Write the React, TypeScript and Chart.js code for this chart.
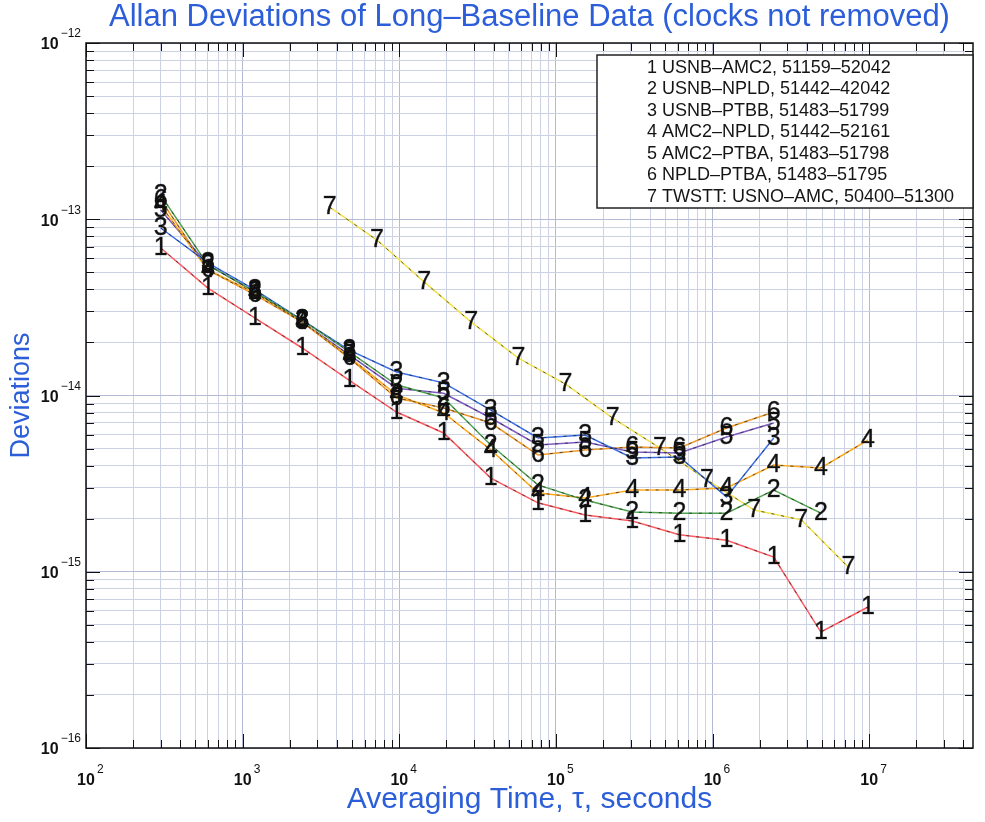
import { useEffect, useRef } from 'react';
import { Chart, registerables } from 'chart.js';

Chart.register(...registerables);

// ---- data ----
const tauMain = [300, 600, 1200, 2400, 4800, 9600, 19200, 38400, 76800, 153600, 307200, 614400, 1228800, 2457600, 4915200, 9830400];
const tauTwstt = [3600, 7200, 14400, 28800, 57600, 115200, 230400, 460800, 921600, 1843200, 3686400, 7372800];

const series1 = [6.87e-14, 4.07e-14, 2.75e-14, 1.86e-14, 1.22e-14, 8.06e-15, 6.13e-15, 3.4e-15, 2.46e-15, 2.1e-15, 1.94e-15, 1.62e-15, 1.51e-15, 1.21e-15, 4.55e-16, 6.31e-16];
const series2 = [1.37e-13, 5.5e-14, 3.87e-14, 2.68e-14, 1.77e-14, 1.15e-14, 9.68e-15, 5.24e-15, 3.11e-15, 2.55e-15, 2.18e-15, 2.15e-15, 2.15e-15, 2.91e-15, 2.15e-15];
const series3 = [8.92e-14, 5.65e-14, 3.97e-14, 2.68e-14, 1.81e-14, 1.36e-14, 1.18e-14, 8.27e-15, 5.74e-15, 5.97e-15, 4.42e-15, 4.48e-15, 2.66e-15, 5.74e-15];
const series4 = [1.2e-13, 5.15e-14, 3.82e-14, 2.61e-14, 1.65e-14, 1.01e-14, 7.96e-15, 4.91e-15, 2.8e-15, 2.62e-15, 2.91e-15, 2.91e-15, 2.99e-15, 4.03e-15, 3.88e-15, 5.59e-15];
const series5 = [1.13e-13, 5.5e-14, 3.87e-14, 2.61e-14, 1.7e-14, 1.1e-14, 1.03e-14, 7.45e-15, 5.24e-15, 5.45e-15, 4.78e-15, 4.72e-15, 5.81e-15, 6.98e-15];
const series6 = [1.29e-13, 5.15e-14, 3.72e-14, 2.61e-14, 1.63e-14, 9.68e-15, 8.5e-15, 6.98e-15, 4.6e-15, 4.91e-15, 5.1e-15, 5.04e-15, 6.54e-15, 8.06e-15];
const series7 = [1.17e-13, 7.62e-14, 4.41e-14, 2.61e-14, 1.63e-14, 1.16e-14, 7.45e-15, 5.04e-15, 3.32e-15, 2.24e-15, 1.97e-15, 1.06e-15];

const seriesMarks = ['1', '2', '3', '4', '5', '6', '7'];
const legendEntries = [
  '1 USNB–AMC2, 51159–52042',
  '2 USNB–NPLD, 51442–42042',
  '3 USNB–PTBB, 51483–51799',
  '4 AMC2–NPLD, 51442–52161',
  '5 AMC2–PTBA, 51483–51798',
  '6 NPLD–PTBA, 51483–51795',
  '7 TWSTT: USNO–AMC, 50400–51300',
];
const seriesColors = ['#ff5a5f', '#4fa34f', '#3b6fe6', '#ffaa1e', '#7e5cc4', '#f09a2c', '#f2e24e'];

const xDecades = [2, 3, 4, 5, 6, 7];
const yDecades = [-16, -15, -14, -13, -12];
const xMin = 100;
const xMax = 4.6e7;
const yMin = 1e-16;
const yMax = 1e-12;

const titleText = 'Allan Deviations of Long–Baseline Data (clocks not removed)';
const xTitle = 'Averaging Time, τ, seconds';
const yTitle = 'Deviations';

const BLUE = '#2b5ed8';
const FONT = '"Liberation Sans", Arial, Helvetica, sans-serif';

function logTicks(min: number, max: number) {
  const out: number[] = [];
  const e0 = Math.floor(Math.log10(min));
  const e1 = Math.ceil(Math.log10(max));
  for (let e = e0; e <= e1; e++) {
    for (let m = 1; m <= 9; m++) {
      const v = m * Math.pow(10, e);
      if (v >= min * 0.999999 && v <= max * 1.000001) out.push(v);
    }
  }
  return out;
}

const isDecade = (v: number) => {
  const l = Math.log10(v);
  return Math.abs(l - Math.round(l)) < 1e-6;
};

const decorPlugin = {
  id: 'decor',
  afterDatasetsDraw(chart: any) {
    const { ctx } = chart;
    ctx.save();
    ctx.font = `25px ${FONT}`;
    ctx.fillStyle = '#111';
    ctx.strokeStyle = 'rgba(17,17,17,0.6)';
    ctx.lineWidth = 0.6;
    ctx.textAlign = 'center';
    ctx.textBaseline = 'middle';
    chart.data.datasets.forEach((ds: any, i: number) => {
      if (!ds.markLabel) return;
      const meta = chart.getDatasetMeta(i);
      meta.data.forEach((pt: any) => {
        ctx.fillText(ds.markLabel, pt.x, pt.y);
        ctx.strokeText(ds.markLabel, pt.x, pt.y);
      });
    });
    ctx.restore();
  },
  afterDraw(chart: any) {
    const { ctx, chartArea: ca, scales } = chart;
    const xs = scales.x;
    const ys = scales.y;
    ctx.save();
    // inward ticks
    ctx.strokeStyle = '#111';
    ctx.lineWidth = 1;
    ctx.beginPath();
    ys.ticks.forEach((t: any) => {
      const py = Math.round(ys.getPixelForValue(t.value)) + 0.5;
      const len = isDecade(t.value) ? 14 : 8;
      ctx.moveTo(ca.left, py);
      ctx.lineTo(ca.left + len, py);
      ctx.moveTo(ca.right, py);
      ctx.lineTo(ca.right - len, py);
    });
    xs.ticks.forEach((t: any) => {
      const px = Math.round(xs.getPixelForValue(t.value)) + 0.5;
      const len = isDecade(t.value) ? 14 : 8;
      ctx.moveTo(px, ca.bottom);
      ctx.lineTo(px, ca.bottom - len);
      ctx.moveTo(px, ca.top);
      ctx.lineTo(px, ca.top + len);
    });
    ctx.stroke();
    // frame
    ctx.lineWidth = 1.5;
    ctx.strokeStyle = '#111';
    ctx.strokeRect(ca.left, ca.top, ca.right - ca.left, ca.bottom - ca.top);

    // tick labels
    ctx.fillStyle = '#111';
    ctx.textBaseline = 'middle';
    yDecades.forEach((e) => {
      const py = ys.getPixelForValue(Math.pow(10, e));
      const expTxt = (e < 0 ? '−' : '') + Math.abs(e);
      ctx.font = `12px ${FONT}`;
      ctx.textAlign = 'right';
      const ew = ctx.measureText(expTxt).width;
      ctx.fillText(expTxt, ca.left - 5, py - 9);
      ctx.font = `bold 16px ${FONT}`;
      ctx.fillText('10', ca.left - 7 - ew, py + 2);
    });
    xDecades.forEach((e) => {
      const px = xs.getPixelForValue(Math.pow(10, e));
      ctx.font = `bold 16px ${FONT}`;
      ctx.textAlign = 'center';
      ctx.fillText('10', px, ca.bottom + 33);
      ctx.font = `12px ${FONT}`;
      ctx.textAlign = 'left';
      ctx.fillText(String(e), px + 11, ca.bottom + 22);
    });

    // legend box
    const lw = 376;
    const lh = 153;
    const lx = ca.right - lw;
    const ly = ca.top + 12;
    ctx.fillStyle = '#fff';
    ctx.fillRect(lx, ly, lw, lh);
    ctx.strokeStyle = '#222';
    ctx.lineWidth = 1.5;
    ctx.strokeRect(lx, ly, lw, lh);
    ctx.fillStyle = '#151515';
    ctx.font = `18px ${FONT}`;
    ctx.textAlign = 'left';
    ctx.textBaseline = 'middle';
    legendEntries.forEach((t, i) => ctx.fillText(t, lx + 50, ly + 13 + i * 21.5));
    ctx.restore();
  },
};

export default function App() {
  const ref = useRef<HTMLCanvasElement | null>(null);
  useEffect(() => {
    if (!ref.current) return;
    const allSeries = [series1, series2, series3, series4, series5, series6, series7];
    const datasets: any[] = [];
    allSeries.forEach((vals, i) => {
      const taus = i === 6 ? tauTwstt : tauMain;
      const pts = vals.map((v, k) => ({ x: taus[k], y: v }));
      datasets.push({
        label: legendEntries[i],
        data: pts,
        borderColor: seriesColors[i],
        borderWidth: 1.5,
        pointRadius: 0,
        fill: false,
        tension: 0,
        order: 2,
        markLabel: seriesMarks[i],
      });
      datasets.push({
        label: legendEntries[i] + ' dash',
        data: pts,
        borderColor: 'rgba(30,30,30,0.7)',
        borderWidth: 1,
        borderDash: [3, 7],
        pointRadius: 0,
        fill: false,
        tension: 0,
        order: 1,
      });
    });

    const gridColor = (c: any) => (c.tick && isDecade(c.tick.value) ? '#b4b9d4' : '#cdd1e4');

    const chart = new Chart(ref.current, {
      type: 'line',
      data: { datasets },
      plugins: [decorPlugin],
      options: {
        animation: false,
        responsive: false,
        devicePixelRatio: 1,
        layout: { padding: { left: 0, right: 12, top: 0, bottom: 0 } },
        plugins: {
          legend: { display: false },
          tooltip: { enabled: false },
          title: {
            display: true,
            text: titleText,
            color: BLUE,
            fullSize: false,
            font: { family: FONT, size: 31, weight: 'normal', lineHeight: 1 },
            padding: { top: 2, bottom: 10 },
          },
        },
        scales: {
          x: {
            type: 'logarithmic',
            min: xMin,
            max: xMax,
            afterBuildTicks: (s: any) => {
              s.ticks = logTicks(xMin, xMax).map((v) => ({ value: v }));
            },
            afterFit: (s: any) => {
              s.height = 74;
            },
            ticks: { display: false },
            grid: { color: gridColor, lineWidth: 1, drawTicks: false },
            border: { display: false },
            title: {
              display: true,
              text: xTitle,
              color: BLUE,
              font: { family: FONT, size: 30, lineHeight: 1 },
              padding: { top: 0, bottom: 7 },
            },
          },
          y: {
            type: 'logarithmic',
            min: yMin,
            max: yMax,
            afterBuildTicks: (s: any) => {
              s.ticks = logTicks(yMin, yMax).map((v) => ({ value: v }));
            },
            afterFit: (s: any) => {
              s.width = 86;
            },
            ticks: { display: false },
            grid: { color: gridColor, lineWidth: 1, drawTicks: false },
            border: { display: false },
            title: {
              display: true,
              text: yTitle,
              color: BLUE,
              font: { family: FONT, size: 27, lineHeight: 1 },
              padding: { top: 8, bottom: 0 },
            },
          },
        },
      } as any,
    });
    return () => chart.destroy();
  }, []);

  return (
    <div style={{ position: 'absolute', left: 0, top: 0, width: 985, height: 822, background: '#fff' }}>
      <canvas ref={ref} width={985} height={822} style={{ width: 985, height: 822, display: 'block' }} />
    </div>
  );
}
